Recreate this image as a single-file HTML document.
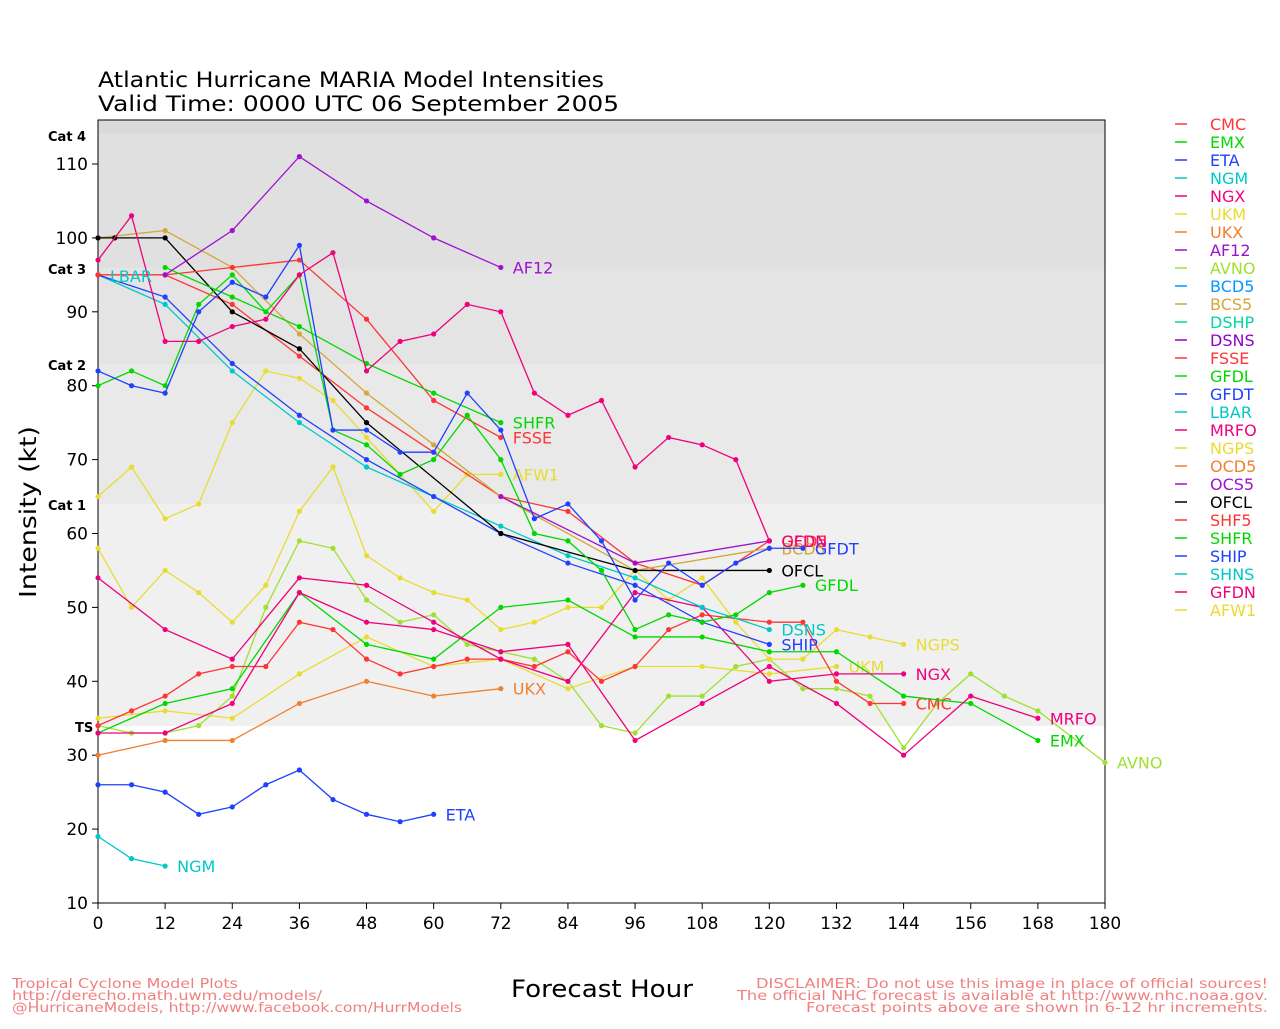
<!DOCTYPE html>
<html><head><meta charset="utf-8"><style>
body{margin:0;background:#fff;}
svg text{font-family:"DejaVu Sans","Liberation Sans",sans-serif;}
</style></head><body>
<svg id="s" width="1280" height="1024" xmlns="http://www.w3.org/2000/svg">
<rect width="1280" height="1024" fill="#fff"/>
<rect x="98" y="120" width="1007" height="14" fill="#dadada"/>
<rect x="98" y="134" width="1007" height="134" fill="#e0e0e0"/>
<rect x="98" y="268" width="1007" height="96" fill="#e4e4e4"/>
<rect x="98" y="364" width="1007" height="140" fill="#e9e9e9"/>
<rect x="98" y="504" width="1007" height="222" fill="#f0f0f0"/>
<rect x="98" y="120" width="1007" height="783" fill="none" stroke="#000" stroke-width="1"/>
<text x="98" y="87" font-size="21" textLength="506" lengthAdjust="spacingAndGlyphs">Atlantic Hurricane MARIA Model Intensities</text>
<text x="98" y="111" font-size="21" textLength="521" lengthAdjust="spacingAndGlyphs">Valid Time: 0000 UTC 06 September 2005</text>
<g font-size="13" font-weight="bold"><text x="48" y="141">Cat 4</text><text x="48" y="274">Cat 3</text><text x="48" y="370">Cat 2</text><text x="48" y="510">Cat 1</text><text x="75" y="732">TS</text></g>
<text transform="translate(36,512) rotate(-90)" font-size="23" text-anchor="middle" textLength="172" lengthAdjust="spacingAndGlyphs">Intensity (kt)</text>
<text x="511" y="997" font-size="24" textLength="182" lengthAdjust="spacingAndGlyphs">Forecast Hour</text>
<g font-size="13" fill="#f08080"><text x="12" y="988" textLength="226" lengthAdjust="spacingAndGlyphs">Tropical Cyclone Model Plots</text><text x="12" y="1000" textLength="310" lengthAdjust="spacingAndGlyphs">http://derecho.math.uwm.edu/models/</text><text x="12" y="1012" textLength="450" lengthAdjust="spacingAndGlyphs">@HurricaneModels, http://www.facebook.com/HurrModels</text></g>
<g font-size="13" fill="#f08080"><text x="756" y="988" textLength="512" lengthAdjust="spacingAndGlyphs">DISCLAIMER: Do not use this image in place of official sources!</text><text x="737" y="1000" textLength="531" lengthAdjust="spacingAndGlyphs">The official NHC forecast is available at http://www.nhc.noaa.gov.</text><text x="806" y="1012" textLength="462" lengthAdjust="spacingAndGlyphs">Forecast points above are shown in 6-12 hr increments.</text></g>
<g id="ax"></g><g id="ser"></g><g id="leg"></g>
</svg>
<script>
const NS="http://www.w3.org/2000/svg";
function X(h){return 98+h*1007/180}function Y(v){return 903-(v-10)*7.39}
function el(p,t,a,txt){const e=document.createElementNS(NS,t);for(const k in a)e.setAttribute(k,a[k]);if(txt!==undefined)e.textContent=txt;p.appendChild(e);return e}
const ax=document.getElementById('ax');
for(let v=10;v<=110;v+=10){el(ax,'line',{x1:92,x2:98,y1:Y(v),y2:Y(v),stroke:'#000'});el(ax,'text',{x:88,y:Y(v)+6,'font-size':17,'text-anchor':'end'},v)}
for(let h=0;h<=180;h+=12){el(ax,'line',{x1:X(h),x2:X(h),y1:903,y2:909,stroke:'#000'});el(ax,'text',{x:X(h),y:929,'font-size':17,'text-anchor':'middle'},h)}
const C={red:'#ff3535',grn:'#00d800',blu:'#2040ff',cya:'#00c8c8',mag:'#f0007c',yel:'#e8dc30',ora:'#f08030',pur:'#a010d0',lim:'#a0e030',sky:'#0099ff',tan:'#d4a838',dsh:'#00d8a0',dsn:'#9000d0',blk:'#000'};
const S=[
['UKX',C.ora,[[0,30],[12,32],[24,32],[36,37],[48,40],[60,38],[72,39]],'UKX'],
['ETA',C.blu,[[0,26],[6,26],[12,25],[18,22],[24,23],[30,26],[36,28],[42,24],[48,22],[54,21],[60,22]],'ETA'],
['NGM',C.cya,[[0,19],[6,16],[12,15]],'NGM'],
['UKM',C.yel,[[0,35],[12,36],[24,35],[36,41],[48,46],[60,42],[72,43],[84,39],[96,42],[108,42],[120,41],[132,42]],'UKM'],
['AVNO',C.lim,[[0,34],[6,33],[12,33],[18,34],[24,38],[30,50],[36,59],[42,58],[48,51],[54,48],[60,49],[66,45],[72,44],[78,43],[84,40],[90,34],[96,33],[102,38],[108,38],[114,42],[120,43],[126,39],[132,39],[138,38],[144,31],[150,37],[156,41],[162,38],[168,36],[180,29]],'AVNO'],
['NGPS',C.yel,[[0,58],[6,50],[12,55],[18,52],[24,48],[30,53],[36,63],[42,69],[48,57],[54,54],[60,52],[66,51],[72,47],[78,48],[84,50],[90,50],[96,55],[102,51],[108,54],[114,48],[120,43],[126,43],[132,47],[138,46],[144,45]],'NGPS'],
['CMC',C.red,[[0,34],[6,36],[12,38],[18,41],[24,42],[30,42],[36,48],[42,47],[48,43],[54,41],[60,42],[66,43],[72,43],[78,42],[84,44],[90,40],[96,42],[102,47],[108,49],[120,48],[126,48],[132,40],[138,37],[144,37]],'CMC'],
['EMX',C.grn,[[0,33],[12,37],[24,39],[36,52],[48,45],[60,43],[72,50],[84,51],[96,46],[108,46],[120,44],[132,44],[144,38],[156,37],[168,32]],'EMX'],
['MRFO',C.mag,[[0,33],[12,33],[24,37],[36,52],[48,48],[60,47],[72,44],[84,45],[96,32],[108,37],[120,42],[132,37],[144,30],[156,38],[168,35]],'MRFO'],
['NGX',C.mag,[[0,54],[12,47],[24,43],[36,54],[48,53],[60,48],[72,43],[84,40],[96,52],[108,50],[120,40],[132,41],[144,41]],'NGX'],
['AFW1',C.yel,[[0,65],[6,69],[12,62],[18,64],[24,75],[30,82],[36,81],[42,78],[48,73],[54,68],[60,63],[66,68],[72,68]],'AFW1'],
['SHNS',C.cya,[[0,95],[12,91],[24,82],[36,75],[48,69],[60,65],[72,61],[84,57],[96,54],[108,50],[120,47]],'DSNS'],
['SHIP',C.blu,[[0,95],[12,92],[24,83],[36,76],[48,70],[60,65],[72,60],[84,56],[96,53],[108,48],[120,45]],'SHIP'],
['SHF5',C.red,[[0,95],[12,95],[24,91],[36,84],[48,77],[60,71],[72,65],[84,63],[96,56],[108,53],[120,59]],'OCD5'],
['BCS5',C.tan,[[0,100],[12,101],[24,96],[36,87],[48,79],[60,72],[72,65],[96,55],[120,58]],'BCD5'],
['OCS5',C.pur,[[72,65],[96,56],[120,59]],null],
['OFCL',C.blk,[[0,100],[3,100],[12,100],[24,90],[36,85],[48,75],[72,60],[96,55],[120,55]],'OFCL'],
['FSSE',C.red,[[0,95],[12,95],[24,96],[36,97],[48,89],[60,78],[72,73]],'FSSE'],
['SHFR',C.grn,[[12,96],[24,92],[36,88],[48,83],[60,79],[72,75]],'SHFR'],
['GFDL',C.grn,[[0,80],[6,82],[12,80],[18,91],[24,95],[30,90],[36,95],[42,74],[48,72],[54,68],[60,70],[66,76],[72,70],[78,60],[84,59],[90,55],[96,47],[102,49],[108,48],[114,49],[120,52],[126,53]],'GFDL'],
['GFDT',C.blu,[[0,82],[6,80],[12,79],[18,90],[24,94],[30,92],[36,99],[42,74],[48,74],[54,71],[60,71],[66,79],[72,74],[78,62],[84,64],[90,59],[96,51],[102,56],[108,53],[114,56],[120,58],[126,58]],'GFDT'],
['GFDN',C.mag,[[0,97],[6,103],[12,86],[18,86],[24,88],[30,89],[36,95],[42,98],[48,82],[54,86],[60,87],[66,91],[72,90],[78,79],[84,76],[90,78],[96,69],[102,73],[108,72],[114,70],[120,59]],'GFDN'],
['AF12',C.pur,[[12,95],[24,101],[36,111],[48,105],[60,100],[72,96]],'AF12']];
const sg=document.getElementById('ser');
S.forEach(([n,c,d,l])=>{
 el(sg,'polyline',{points:d.map(p=>X(p[0])+','+Y(p[1])).join(' '),fill:'none',stroke:c,'stroke-width':1.3});
 d.forEach(p=>el(sg,'circle',{cx:X(p[0]),cy:Y(p[1]),r:2.6,fill:c}));
 if(l){const p=d[d.length-1];el(sg,'text',{x:X(p[0])+12,y:Y(p[1])+6,'font-size':16,fill:c},l)}
});
el(sg,'text',{x:110,y:282,'font-size':16,fill:C.cya},'LBAR');
const L=[['CMC',C.red],['EMX',C.grn],['ETA',C.blu],['NGM',C.cya],['NGX',C.mag],['UKM',C.yel],['UKX',C.ora],['AF12',C.pur],['AVNO',C.lim],['BCD5',C.sky],['BCS5',C.tan],['DSHP',C.dsh],['DSNS',C.dsn],['FSSE',C.red],['GFDL',C.grn],['GFDT',C.blu],['LBAR',C.cya],['MRFO',C.mag],['NGPS',C.yel],['OCD5',C.ora],['OCS5',C.pur],['OFCL',C.blk],['SHF5',C.red],['SHFR',C.grn],['SHIP',C.blu],['SHNS',C.cya],['GFDN',C.mag],['AFW1',C.yel]];
const lg=document.getElementById('leg');
L.forEach(([n,c],i)=>{const y=124+i*18;el(lg,'line',{x1:1175,x2:1187,y1:y,y2:y,stroke:c,'stroke-width':1.5});el(lg,'text',{x:1210,y:y+6,'font-size':16,fill:c},n)});
</script>
</body></html>
